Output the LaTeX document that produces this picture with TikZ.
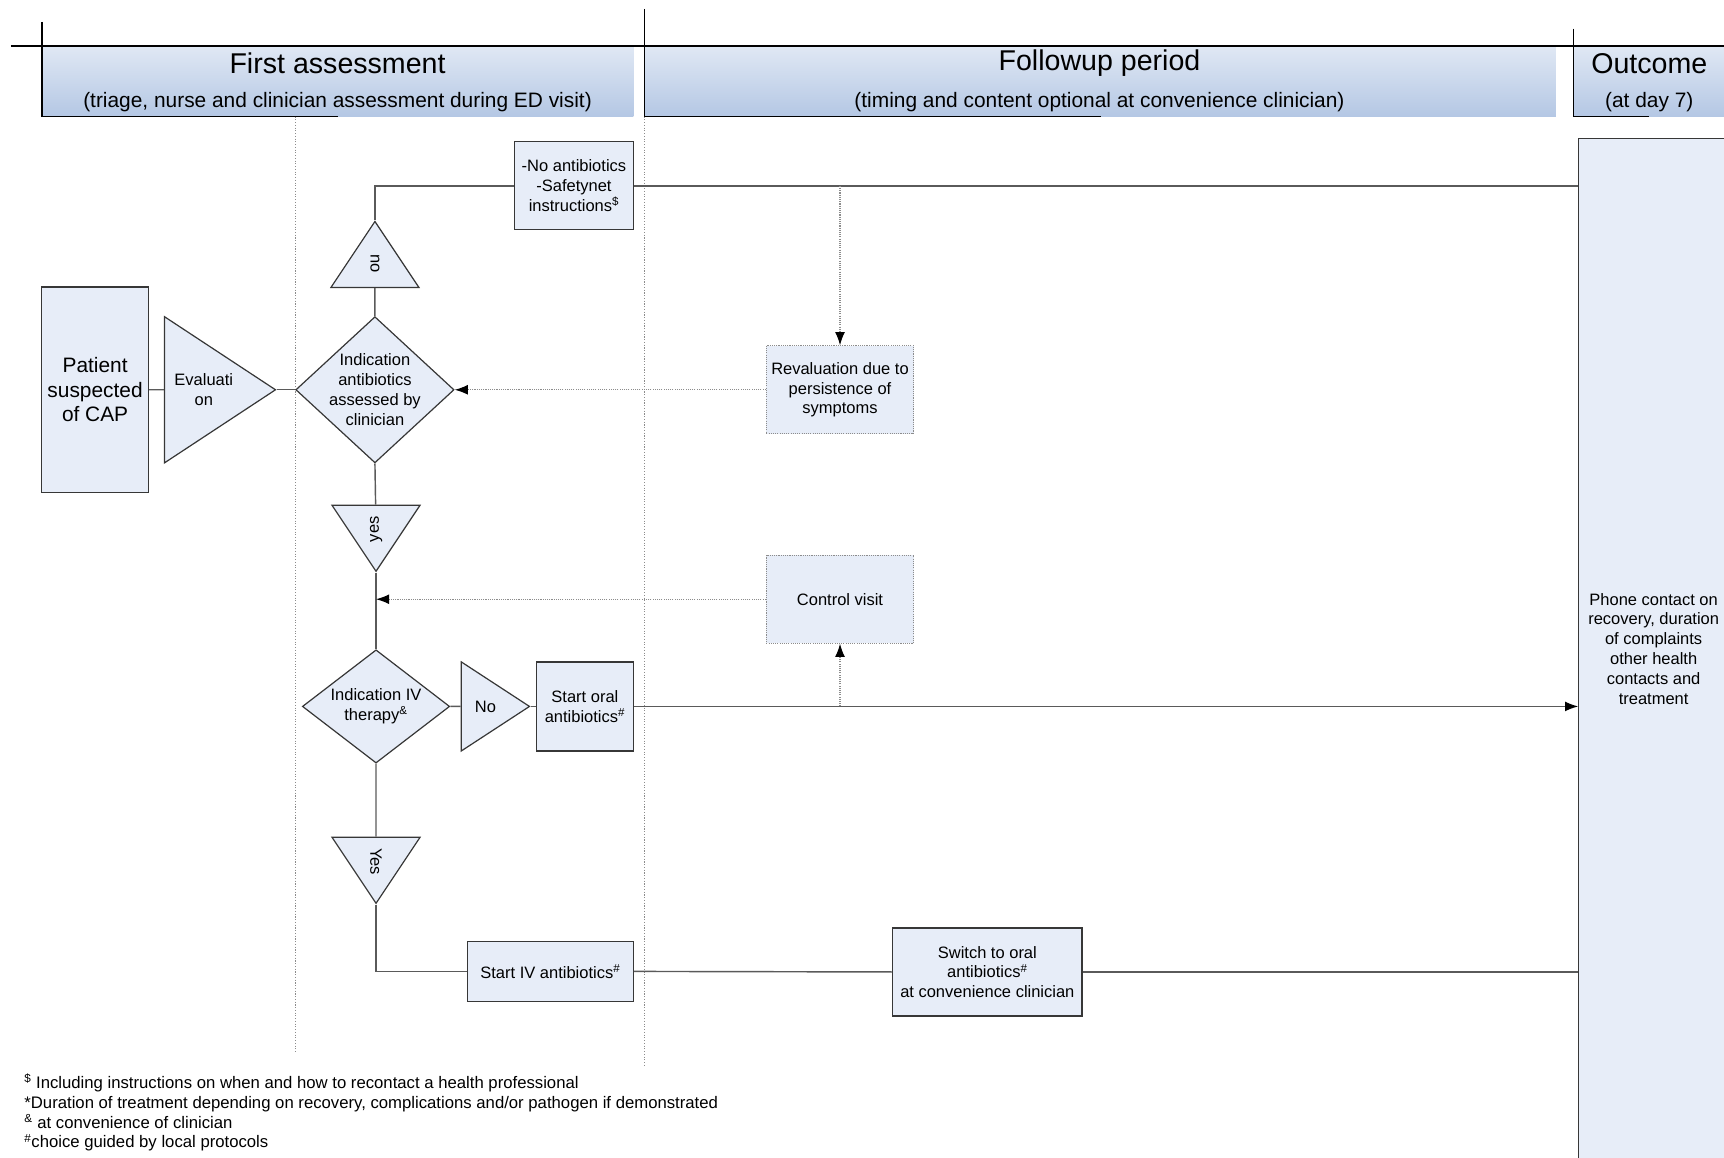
\documentclass[tikz,border=0pt]{standalone}
\usepackage{fontspec}
\setmainfont{Liberation Sans}
\usetikzlibrary{shapes.geometric,arrows.meta,positioning,calc}
\definecolor{boxfill}{RGB}{231,237,248}
\definecolor{headtop}{RGB}{224,232,244}
\definecolor{headbot}{RGB}{180,199,228}
\definecolor{linegray}{RGB}{90,90,90}
\definecolor{edgegray}{RGB}{55,55,55}
\definecolor{dotgray}{RGB}{140,140,140}

\begin{document}
\begin{tikzpicture}[x=1pt,y=-1pt,
    every node/.style={font=\fontsize{15}{18}\selectfont,align=center},
    box/.style={rectangle,draw=edgegray,fill=boxfill,line width=1.1pt,inner sep=0pt},
    dotbox/.style={box,draw=dotgray,dash pattern=on 1pt off 1pt,line width=1pt},
    decision/.style={diamond,draw=edgegray,fill=boxfill,line width=1.1pt,inner sep=0pt},
    tri/.style={isosceles triangle,isosceles triangle stretches,draw=edgegray,fill=boxfill,line width=1.1pt,inner sep=0pt},
    headbox/.style={rectangle,top color=headtop,bottom color=headbot,draw=none,inner sep=0pt},
    flow/.style={draw=linegray,line width=1.3pt},
    dotflow/.style={draw=dotgray,line width=1pt,dash pattern=on 1pt off 1pt},
    sep/.style={draw=dotgray,line width=0.8pt,dash pattern=on 1pt off 1.5pt},
    >={Latex[length=12pt,width=9pt,color=black]}]
    \useasboundingbox (0,0) rectangle (1568,1053);
    \clip (0,0) rectangle (1568,1053);
    %%%%%%%%%%%%%%%%%%%%%%%%%%%headers%%%%%%%%%%%%%%%%%%%%%%
    \node[headbox,minimum width=538pt,minimum height=64pt] (hfirst) at (307,74) {};
    \node[headbox,minimum width=829pt,minimum height=64pt] (hfollow) at (1000.5,74) {};
    \node[headbox,minimum width=140pt,minimum height=64pt] (hout) at (1501,74) {};
    \node[font=\fontsize{26}{30}\selectfont] (tfirst) at (307,57.5) {First assessment};
    \node[font=\fontsize{19}{22}\selectfont] (sfirst) at (307,93) {(triage, nurse and clinician assessment during ED visit)};
    \node[font=\fontsize{26}{30}\selectfont] (tfollow) at (1000,57.5) {Followup period};
    \node[font=\fontsize{19}{22}\selectfont] (sfollow) at (1000,93) {(timing and content optional at convenience clinician)};
    \node[font=\fontsize{26}{30}\selectfont] (tout) at (1500,57.5) {Outcome};
    \node[font=\fontsize{19}{22}\selectfont] (sout) at (1500,93) {(at day 7)};
    \draw[line width=1.4pt] (10,42) -- (1568,42);
    \draw[line width=1.4pt] (38,20) -- (38,106) -- (307,106);
    \draw[line width=1.4pt] (586,8) -- (586,106) -- (1001,106);
    \draw[line width=1.4pt] (1431,26) -- (1431,106) -- (1500,106);
    \draw[sep] (269,106) -- (269,958);
    \draw[sep] (586,106) -- (586,970);

    %%%%%%%%%%%%%%%%%%%%%%%%%%%first assessment%%%%%%%%%%%%%%%%%%%%%%
    \node[box,minimum width=97pt,minimum height=187pt,font=\fontsize{19}{22.5}\selectfont] (patient) at (86.5,354.5) {Patient\\suspected\\of CAP};
    \node[tri,minimum height=101pt,minimum width=133pt,anchor=apex] (evalT) at (252,354.5) {Evaluati\\on};
    \node[decision,minimum width=144pt,minimum height=133pt,
          label={center:Indication\\antibiotics\\assessed by\\clinician}] (ind) at (341,354.5) {};
    \node[tri,shape border rotate=180,rotate=-90,minimum height=60pt,minimum width=80pt,anchor=apex] (noT) at (341,200) {no};
    \node[box,minimum width=108pt,minimum height=80pt] (noab) at (522,169) {-No antibiotics\\-Safetynet\\instructions\textsuperscript{\$}};
    \node[tri,shape border rotate=180,rotate=90,minimum height=60pt,minimum width=80pt,anchor=apex] (yesT) at (342,521) {yes};
    \node[decision,minimum width=134pt,minimum height=103pt,
          label={center:Indication IV\\therapy\textsuperscript{\&}}] (iv) at (342,642.5) {};
    \node[tri,minimum height=62pt,minimum width=81pt,anchor=apex] (noT2) at (483,642.5) {No};
    \node[box,minimum width=88pt,minimum height=81pt] (oral) at (532,642.5) {Start oral\\antibiotics\textsuperscript{\#}};
    \node[tri,rotate=-90,minimum height=60pt,minimum width=80pt,anchor=apex] (YesT) at (342,823) {Yes};
    \node[box,minimum width=151pt,minimum height=55pt] (ivab) at (500.5,883.5) {Start IV antibiotics\textsuperscript{\#}};

    %%%%%%%%%%%%%%%%%%%%%%%%%%%followup and outcome%%%%%%%%%%%%%%%%%%%%%%
    \node[dotbox,minimum width=134pt,minimum height=80pt] (reval) at (764,354.5) {Revaluation due to\\persistence of\\symptoms};
    \node[dotbox,minimum width=134pt,minimum height=80pt] (ctrl) at (764,545) {Control visit};
    \node[box,minimum width=172pt,minimum height=80pt] (switch) at (898,884) {Switch to oral\\antibiotics\textsuperscript{\#}\\at convenience clinician};
    \node[box,minimum width=136pt,minimum height=928pt] (outc) at (1504,590) {Phone contact on\\recovery, duration\\of complaints\\other health\\contacts and\\treatment};

    \node[anchor=west,align=left,inner sep=0pt,font=\fontsize{15.2}{18}\selectfont] (notes) at (22,1012)
      {\textsuperscript{\$} Including instructions on when and how to recontact a health professional\\
       *Duration of treatment depending on recovery, complications and/or pathogen if demonstrated\\
       \textsuperscript{\&} at convenience of clinician\\
       \textsuperscript{\#}choice guided by local protocols};

    %%%%%%%%%%%%%%%%%%%%%%%%%%%connectors%%%%%%%%%%%%%%%%%%%%%%
    \draw[flow] (patient) -- (evalT);
    \draw[flow] (evalT.apex) -- (ind.west);
    \draw[flow] (ind.north) -- (noT);
    \draw[flow] (noT.apex) |- (noab.west);
    \draw[flow] (noab.east) -- (noab.east -| outc.west);
    \draw[dotflow,->] (reval.north |- noab.east) -- (reval.north);
    \draw[dotflow,->] (reval.west) -- (ind.east);
    \draw[flow] (ind.south) -- (yesT);
    \draw[flow] (yesT.apex) -- (iv.north);
    \draw[dotflow,->] (ctrl.west) -- (ctrl.west -| iv.north);
    \draw[flow] (iv.east) -- (noT2);
    \draw[flow] (noT2.apex) -- (oral.west);
    \draw[flow,->] (oral.east) -- (oral.east -| outc.west);
    \draw[dotflow,->] (ctrl.south |- oral.east) -- (ctrl.south);
    \draw[flow] (iv.south) -- (YesT);
    \draw[flow] (YesT.apex) |- (ivab.west);
    \draw[flow] (ivab.east) -- (switch.west);
    \draw[flow] (switch.east) -- (switch.east -| outc.west);
\end{tikzpicture}
\end{document}
